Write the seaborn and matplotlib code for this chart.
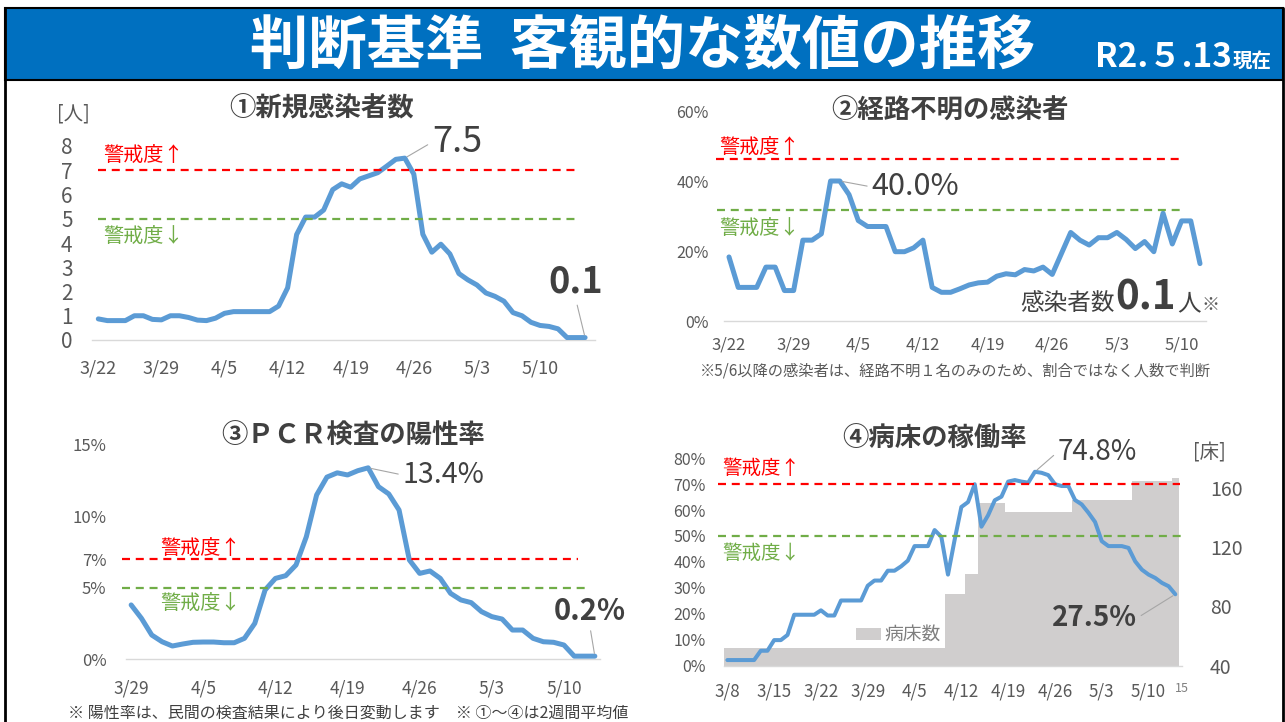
import matplotlib
matplotlib.use("Agg")
import matplotlib.pyplot as plt
from matplotlib.patches import Rectangle
from matplotlib.ticker import FuncFormatter
import numpy as np
import seaborn as sns

# ① 新規感染者数 [人] (2週間平均, 3/22〜)
cases = [0.87, 0.8, 0.8, 0.8, 1.0, 1.0, 0.85, 0.83, 1.0, 1.0,
         0.93, 0.82, 0.8, 0.9, 1.1, 1.17, 1.17, 1.17, 1.17, 1.17,
         1.4, 2.15, 4.35, 5.07, 5.07, 5.36, 6.2, 6.44, 6.3, 6.64,
         6.77, 6.9, 7.17, 7.45, 7.5, 6.84, 4.36, 3.62, 3.95, 3.55,
         2.74, 2.48, 2.27, 1.94, 1.8, 1.6, 1.13, 1.0, 0.73, 0.6,
         0.56, 0.46, 0.1, 0.1, 0.1]
cases_ticks = ["3/22", "3/29", "4/5", "4/12", "4/19", "4/26", "5/3", "5/10"]

# ② 経路不明の割合 [%] (3/22〜)
unknown_pct = [18.3, 9.6, 9.6, 9.6, 15.4, 15.4, 8.7, 8.7, 23.1, 23.1,
               24.9, 40.0, 40.0, 36.1, 28.7, 27.0, 27.0, 27.0, 19.8, 19.8,
               20.9, 23.1, 9.6, 8.2, 8.2, 9.2, 10.3, 10.9, 11.1, 12.8,
               13.5, 13.2, 14.7, 14.3, 15.4, 13.3, 19.3, 25.3, 23.1, 21.7,
               23.8, 23.8, 25.3, 23.3, 20.7, 22.7, 19.8, 30.8, 22.0, 28.6,
               28.6, 16.4]
unknown_ticks = ["3/22", "3/29", "4/5", "4/12", "4/19", "4/26", "5/3", "5/10"]

# ③ PCR検査の陽性率 [%] (3/29〜)
positive_pct = [3.79, 2.85, 1.68, 1.21, 0.91, 1.05, 1.17, 1.19, 1.19, 1.14,
                1.14, 1.45, 2.5, 4.84, 5.65, 5.84, 6.59, 8.57, 11.5, 12.75,
                13.05, 12.9, 13.2, 13.4, 12.08, 11.57, 10.44, 6.94, 6.0, 6.17,
                5.65, 4.6, 4.14, 3.95, 3.32, 2.97, 2.8, 2.03, 2.03, 1.45,
                1.21, 1.17, 0.98, 0.2, 0.2, 0.2]
positive_ticks = ["3/29", "4/5", "4/12", "4/19", "4/26", "5/3", "5/10"]

# ④ 病床の稼働率 [%] と病床数 [床] (3/8〜)
occupancy_pct = [2.1, 2.1, 2.1, 2.1, 2.1, 5.7, 5.7, 9.8, 9.8, 11.8,
                 19.6, 19.6, 19.6, 19.6, 21.3, 19.3, 19.3, 25.1, 25.1, 25.1,
                 25.1, 30.8, 32.8, 32.8, 36.6, 36.6, 38.3, 40.5, 46.1, 46.1,
                 46.1, 52.3, 49.7, 35.1, 48.6, 61.2, 63.1, 70.0, 53.6, 58.0,
                 63.8, 65.2, 71.0, 71.6, 71.0, 70.6, 74.8, 74.4, 73.5, 70.0,
                 69.3, 69.3, 63.9, 62.2, 59.0, 55.4, 48.0, 46.1, 46.1, 46.1,
                 45.4, 40.2, 37.0, 35.1, 33.8, 31.9, 30.6, 27.5]
beds = [52, 52, 52, 52, 52, 52, 52, 52, 52, 52,
        52, 52, 52, 52, 52, 52, 52, 52, 52, 52,
        52, 52, 52, 52, 52, 52, 52, 52, 52, 52,
        52, 52, 52, 88, 88, 88, 102, 102, 150, 150,
        150, 150, 144, 144, 144, 144, 144, 144, 144, 144,
        144, 144, 152, 152, 152, 152, 152, 152, 152, 152,
        152, 165, 165, 165, 165, 165, 165, 167]
bed_ticks = ["3/8", "3/15", "3/22", "3/29", "4/5", "4/12", "4/19", "4/26", "5/3", "5/10", "15"]

# 警戒度の基準 (↑, ↓)
cases_limits = [7, 5]
unknown_limits = [46.2, 31.7]
positive_limits = [7, 5]
occupancy_limits = [70, 50]

BLUE = "#5b9bd5"
RED = "#ff0000"
GREEN = "#70ad47"
TICK = "#595959"
DARK = "#404040"
LEADER = "#a6a6a6"

sns.set_theme(style="white")
plt.rcParams["font.family"] = ["Noto Sans CJK JP", "DejaVu Sans"]

W, H = 1285, 722
fig = plt.figure(figsize=(W / 100, H / 100), dpi=100)


def px_box(left, right, top, bottom):
    return [left / W, 1 - bottom / H, (right - left) / W, (bottom - top) / H]


def ftext(x, y, s, **kw):
    fig.text(x / W, 1 - y / H, s, **kw)


def base_style(ax, size_x, size_y, pad_x, pad_y):
    for side in ["top", "right", "left"]:
        ax.spines[side].set_visible(False)
    ax.spines["bottom"].set_color("#d9d9d9")
    ax.spines["bottom"].set_linewidth(1.0)
    ax.tick_params(axis="both", which="major", length=0, colors=TICK)
    ax.tick_params(axis="x", labelsize=size_x, pad=pad_x)
    ax.tick_params(axis="y", labelsize=size_y, pad=pad_y)
    ax.grid(False)
    ax.set_xlabel("")
    ax.set_ylabel("")


def limit_lines(ax, limits, spans, labels_at, fs):
    pos = ax.get_position()
    for val, col, (x0, x1), (tx, ty), arrow in zip(limits, [RED, GREEN], spans, labels_at, "↑↓"):
        f0 = (x0 / W - pos.x0) / pos.width
        f1 = (x1 / W - pos.x0) / pos.width
        ax.axhline(val, f0, f1, color=col, lw=1.6, ls=(0, (3.6, 2.6)), zorder=4, clip_on=False)
        ftext(tx, ty, "警戒度" + arrow, color=col, fontsize=fs, ha="left", va="center")


def draw_line(ax, values, lw):
    sns.lineplot(x=np.arange(len(values)), y=values, ax=ax, color=BLUE, linewidth=lw,
                 errorbar=None, solid_joinstyle="round", solid_capstyle="round", zorder=3)


def lead(ax, text, xy, off, ha, relpos, fs, bold=False):
    ax.annotate(text, xy=xy, xytext=off, textcoords="offset points", ha=ha, va="center",
                fontsize=fs, color=DARK, fontweight="bold" if bold else "normal",
                arrowprops=dict(arrowstyle="-", color=LEADER, lw=0.8, relpos=relpos,
                                shrinkA=1, shrinkB=2), zorder=6, annotation_clip=False)


pct = FuncFormatter(lambda v, p: f"{v:.0f}%")

# header bar
fig.patches.append(Rectangle((5 / W, 1 - 80 / H), 1278 / W, 72 / H, transform=fig.transFigure,
                             facecolor="#0070c0", edgecolor="black", lw=1.5, zorder=0))
fig.lines.append(plt.Line2D([4.5 / W, 4.5 / W], [0, 1 - 8 / H], transform=fig.transFigure,
                            color="black", lw=2))
fig.lines.append(plt.Line2D([1283 / W, 1283 / W], [0, 1 - 8 / H], transform=fig.transFigure,
                            color="black", lw=2))
ftext(643, 46, "判断基準  客観的な数値の推移", color="white", fontsize=42, fontweight="bold",
      ha="center", va="center")
ftext(1232, 67, "R2.５.13", color="white", fontsize=24, fontweight="bold", ha="right", va="baseline")
ftext(1233, 67, "現在", color="white", fontsize=14, fontweight="bold", ha="left", va="baseline")

# ---------- ① 新規感染者数 ----------
ax1 = fig.add_axes(px_box(92, 595, 146, 340))
draw_line(ax1, cases, 3.6)
ax1.set_yticks(range(0, 9))
ax1.set_xticks(np.arange(0, 7 * len(cases_ticks), 7))
ax1.set_xticklabels(cases_ticks)
ax1.set_xlim(-0.7, 55.1)
ax1.set_ylim(0, 8)
base_style(ax1, 13, 15, 14, 14)
limit_lines(ax1, cases_limits, [(98, 580), (98, 580)], [(103, 155), (103, 236)], 14.5)
ftext(322, 109, "①新規感染者数", color=DARK, fontsize=19, fontweight="bold", ha="center", va="center")
ftext(57, 114, "[人]", color=TICK, fontsize=14, ha="left", va="center")
peak1 = int(np.argmax(cases))
lead(ax1, "7.5", (peak1, cases[peak1]), (19.7, 11.5), "left", (0, 0.5), 26)
lead(ax1, "0.1", (len(cases) - 1, cases[-1]), (-6.5, 40), "center", (0.5, 0), 26, bold=True)

# ---------- ② 経路不明の感染者 ----------
ax2 = fig.add_axes(px_box(724, 1206, 111, 321))
draw_line(ax2, unknown_pct, 3.6)
ax2.set_yticks([0, 20, 40, 60])
ax2.yaxis.set_major_formatter(pct)
ax2.set_xticks(np.arange(0, 7 * len(unknown_ticks), 7))
ax2.set_xticklabels(unknown_ticks)
ax2.set_xlim(-0.54, 51.65)
ax2.set_ylim(0, 60)
base_style(ax2, 12, 11.5, 11, 11)
limit_lines(ax2, unknown_limits, [(716, 1180), (717, 1182)], [(719, 147), (719, 228)], 14.5)
ftext(950, 111, "②経路不明の感染者", color=DARK, fontsize=19, fontweight="bold", ha="center", va="center")
peak2 = 12
lead(ax2, "40.0%", (peak2, unknown_pct[peak2]), (23, -4.3), "left", (0, 0.5), 22)
ftext(1115, 310, "感染者数", color=DARK, fontsize=17, ha="right", va="baseline")
ftext(1115, 310, "0.1", color=DARK, fontsize=29, fontweight="bold", ha="left", va="baseline")
ftext(1177, 310, "人", color=DARK, fontsize=17, ha="left", va="baseline")
ftext(1202, 310, "※", color=TICK, fontsize=13, ha="left", va="baseline")
ftext(955, 371, "※5/6以降の感染者は、経路不明１名のみのため、割合ではなく人数で判断",
      color=TICK, fontsize=11, ha="center", va="center")

# ---------- ③ PCR検査の陽性率 ----------
ax3 = fig.add_axes(px_box(126, 600, 445, 659))
draw_line(ax3, positive_pct, 3.6)
ax3.set_yticks([0, 5, 7, 10, 15])
ax3.yaxis.set_major_formatter(pct)
ax3.set_xticks(np.arange(0, 7 * len(positive_ticks), 7))
ax3.set_xticklabels(positive_ticks)
ax3.set_xticks(np.arange(len(positive_ticks)) * 7 - 0.5, minor=True)
ax3.set_xlim(-0.5, 45.5)
ax3.set_ylim(0, 15)
base_style(ax3, 12.5, 12, 15, 14)
ax3.tick_params(axis="x", which="minor", length=7, width=1, color="#d9d9d9", direction="out")
limit_lines(ax3, positive_limits, [(122, 578), (122, 588)], [(160, 548), (160, 603)], 14.5)
ftext(353, 436, "③ＰＣＲ検査の陽性率", color=DARK, fontsize=19, fontweight="bold", ha="center", va="center")
peak3 = int(np.argmax(positive_pct))
lead(ax3, "13.4%", (peak3, positive_pct[peak3]), (25, -5.2), "left", (0, 0.5), 20.5)
lead(ax3, "0.2%", (len(positive_pct) - 1, positive_pct[-1]), (-3.6, 32.4), "center", (0.5, 0), 21, bold=True)
ftext(68, 713, "※ 陽性率は、民間の検査結果により後日変動します　※ ①～④は2週間平均値",
      color=DARK, fontsize=11.5, ha="left", va="center")

# ---------- ④ 病床の稼働率 ----------
ax4 = fig.add_axes(px_box(724, 1182, 458.3, 665.5))
ax4b = ax4.twinx()
sns.barplot(x=np.arange(len(beds)), y=beds, ax=ax4b, color="#d0cece", width=1.0,
            saturation=1, native_scale=True, linewidth=0, edgecolor="none")
ax4b.set_ylim(40, 180)
ax4b.set_yticks([40, 80, 120, 160])
for side in ["top", "left", "right", "bottom"]:
    ax4b.spines[side].set_visible(False)
ax4b.tick_params(axis="y", length=0, colors=TICK, labelsize=14, pad=20)
ax4b.grid(False)
ax4b.set_ylabel("")

ax4.set_zorder(ax4b.get_zorder() + 1)
ax4.patch.set_visible(False)
draw_line(ax4, occupancy_pct, 2.9)
ax4.set_yticks(range(0, 81, 10))
ax4.yaxis.set_major_formatter(pct)
tick_pos = list(np.arange(len(bed_ticks) - 1) * 7) + [len(beds)]
ax4.set_xticks(tick_pos)
ax4.set_xticklabels(bed_ticks)
ax4.set_xticks(np.arange(len(bed_ticks) - 1) * 7 - 0.5, minor=True)
ax4.set_xlim(-0.5, 68.0)
ax4.set_ylim(0, 80)
base_style(ax4, 12.3, 11.5, 12, 13)
ax4.tick_params(axis="x", which="minor", length=7, width=1, color="#d9d9d9", direction="out")
last = ax4.get_xticklabels()[-1]
last.set_fontsize(9)
last.set_color("#7f7f7f")
limit_lines(ax4, occupancy_limits, [(718, 1180), (718, 1182)], [(722, 468), (722, 553)], 14)
ftext(935, 439, "④病床の稼働率", color=DARK, fontsize=19, fontweight="bold", ha="center", va="center")
ftext(1193, 453, "[床]", color=TICK, fontsize=14, ha="left", va="center")
peak4 = int(np.argmax(occupancy_pct))
lead(ax4, "74.8%", (peak4, occupancy_pct[peak4]), (16.6, 14.5), "left", (0, 0.5), 20)
lead(ax4, "27.5%", (len(occupancy_pct) - 1, occupancy_pct[-1]), (-27.8, -17.3), "right", (1, 0.5), 20, bold=True)
fig.patches.append(Rectangle((856 / W, 1 - 640 / H), 25 / W, 12 / H, transform=fig.transFigure,
                             facecolor="#d0cece", edgecolor="none", zorder=5))
ftext(884, 634, "病床数", color="#7f7f7f", fontsize=13.5, ha="left", va="center")

fig.savefig("out.png", dpi=100)
